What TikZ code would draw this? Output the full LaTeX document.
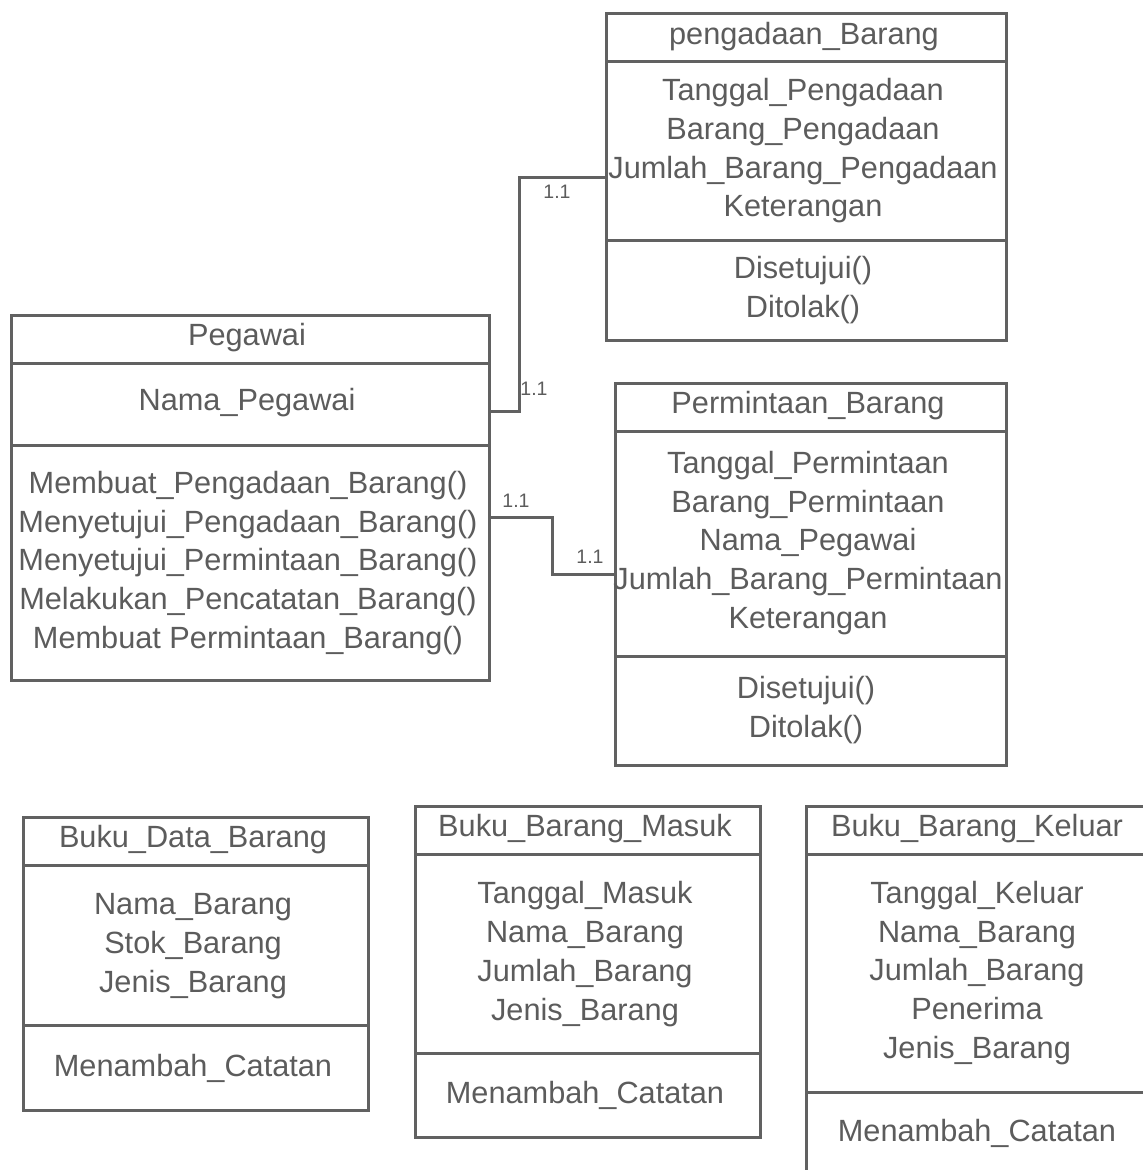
\documentclass[tikz,border=0pt]{standalone}
\usepackage{fontspec}
\setmainfont{Liberation Sans}
\usetikzlibrary{shadows}
\definecolor{linegray}{HTML}{616161}
\definecolor{textgray}{HTML}{5C5C5C}
\tikzset{
  classbox/.style={draw=linegray, line width=3pt, fill=white, inner sep=0pt, outer sep=0pt,
    anchor=north west, drop shadow={shadow xshift=1pt, shadow yshift=-2pt, opacity=0.12, fill=black}},
  divider/.style={draw=linegray, line width=3pt},
  txt/.style={text=textgray, font=\fontsize{30.7}{38.7}\selectfont, align=center, inner sep=0pt},
  conn/.style={draw=linegray, line width=3pt},
  mult/.style={text=textgray, font=\fontsize{19.5}{21}\selectfont, inner sep=0pt}
}
\begin{document}
\begin{tikzpicture}[x=1pt, y=1pt]
\clip (0,0) rectangle (1143,-1170);
\fill[white] (0,0) rectangle (1143,-1170);

% --- pengadaan_Barang ---
\node[classbox, minimum width=400pt, minimum height=327pt] (pengadaan) at (606,-13) {};
\draw[divider] (pengadaan.west |- 0,-61) -- (pengadaan.east |- 0,-61);
\draw[divider] (pengadaan.west |- 0,-240) -- (pengadaan.east |- 0,-240);
\node[txt] (pengadaanT) at (804,-37) {pengadaan\_Barang};
\node[txt] (pengadaanA) at (803,-151) {Tanggal\_Pengadaan\\Barang\_Pengadaan\\Jumlah\_Barang\_Pengadaan\\Keterangan};
\node[txt] (pengadaanM) at (803,-290) {Disetujui()\\Ditolak()};

% --- Pegawai ---
\node[classbox, minimum width=478pt, minimum height=365pt] (pegawai) at (11,-315) {};
\draw[divider] (pegawai.west |- 0,-363) -- (pegawai.east |- 0,-363);
\draw[divider] (pegawai.west |- 0,-445) -- (pegawai.east |- 0,-445);
\node[txt] (pegawaiT) at (247,-338) {Pegawai};
\node[txt] (pegawaiA) at (247,-403) {Nama\_Pegawai};
\node[txt] (pegawaiM) at (248,-563) {Membuat\_Pengadaan\_Barang()\\Menyetujui\_Pengadaan\_Barang()\\Menyetujui\_Permintaan\_Barang()\\Melakukan\_Pencatatan\_Barang()\\Membuat Permintaan\_Barang()};

% --- Permintaan_Barang ---
\node[classbox, minimum width=391pt, minimum height=382pt] (permintaan) at (615,-383) {};
\draw[divider] (permintaan.west |- 0,-431) -- (permintaan.east |- 0,-431);
\draw[divider] (permintaan.west |- 0,-656) -- (permintaan.east |- 0,-656);
\node[txt] (permintaanT) at (808,-406) {Permintaan\_Barang};
\node[txt] (permintaanA) at (808,-543) {Tanggal\_Permintaan\\Barang\_Permintaan\\Nama\_Pegawai\\Jumlah\_Barang\_Permintaan\\Keterangan};
\node[txt] (permintaanM) at (806,-710) {Disetujui()\\Ditolak()};

% --- Buku_Data_Barang ---
\node[classbox, minimum width=345pt, minimum height=293pt] (bukudata) at (23,-817) {};
\draw[divider] (bukudata.west |- 0,-865) -- (bukudata.east |- 0,-865);
\draw[divider] (bukudata.west |- 0,-1025) -- (bukudata.east |- 0,-1025);
\node[txt] (bukudataT) at (193,-840) {Buku\_Data\_Barang};
\node[txt] (bukudataA) at (193,-946) {Nama\_Barang\\Stok\_Barang\\Jenis\_Barang};
\node[txt] (bukudataM) at (193,-1068) {Menambah\_Catatan};

% --- Buku_Barang_Masuk ---
\node[classbox, minimum width=345pt, minimum height=331pt] (bukumasuk) at (415,-806) {};
\draw[divider] (bukumasuk.west |- 0,-854) -- (bukumasuk.east |- 0,-854);
\draw[divider] (bukumasuk.west |- 0,-1053) -- (bukumasuk.east |- 0,-1053);
\node[txt] (bukumasukT) at (585,-829) {Buku\_Barang\_Masuk};
\node[txt] (bukumasukA) at (585,-954) {Tanggal\_Masuk\\Nama\_Barang\\Jumlah\_Barang\\Jenis\_Barang};
\node[txt] (bukumasukM) at (585,-1095) {Menambah\_Catatan};

% --- Buku_Barang_Keluar ---
\node[classbox, minimum width=342pt, minimum height=400pt] (bukukeluar) at (806,-806) {};
\draw[divider] (bukukeluar.west |- 0,-854) -- (bukukeluar.east |- 0,-854);
\draw[divider] (bukukeluar.west |- 0,-1092) -- (bukukeluar.east |- 0,-1092);
\node[txt] (bukukeluarT) at (977,-829) {Buku\_Barang\_Keluar};
\node[txt] (bukukeluarA) at (977,-973) {Tanggal\_Keluar\\Nama\_Barang\\Jumlah\_Barang\\Penerima\\Jenis\_Barang};
\node[txt] (bukukeluarM) at (977,-1133) {Menambah\_Catatan};

% --- associations ---
\draw[conn] (pegawai.east |- 0,-411) -- (519,-411) |- (pengadaan.west |- 0,-177);
\draw[conn] (pegawai.east |- 0,-517) -- (552,-517) |- (permintaan.west |- 0,-574);

% multiplicities
\node[mult] (m1) at (557,-192) {1.1};
\node[mult] (m2) at (534,-389) {1.1};
\node[mult] (m3) at (516,-501) {1.1};
\node[mult] (m4) at (590,-557) {1.1};
\end{tikzpicture}
\end{document}
